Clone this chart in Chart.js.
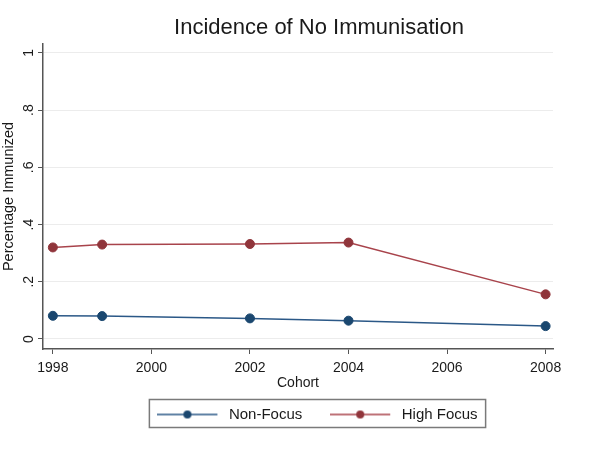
<!DOCTYPE html>
<html>
<head>
<meta charset="utf-8">
<script src="https://cdn.jsdelivr.net/npm/chart.js@4/dist/chart.umd.min.js"></script>
<style>
  html, body { margin: 0; padding: 0; background: #fff; }
</style>
</head>
<body>
<canvas id="immunChart" width="600" height="450"></canvas>
<script>
var cohorts = [1998, 1999, 2002, 2004, 2008];
var nonFocus = [0.081, 0.080, 0.072, 0.064, 0.045];
var highFocus = [0.320, 0.330, 0.332, 0.337, 0.156];
var xTicks = [1998, 2000, 2002, 2004, 2006, 2008];
var yTicks = [0, 0.2, 0.4, 0.6, 0.8, 1];
var yTickLabels = ["0", ".2", ".4", ".6", ".8", "1"];

var navyLine = "#2b5887";
var navyDot = "#1a476f";
var maroonLine = "#a8434b";
var maroonDot = "#90353b";
var axisGrey = "#555555";
var font = "'Liberation Sans', Arial, sans-serif";

function toPoints(values) {
  return cohorts.map(function (c, i) { return { x: c, y: values[i] }; });
}

// Stata-style legend key: a line with a dot on it (4px blank on the right)
function legendKey(line, dot) {
  var cv = document.createElement("canvas");
  cv.width = 64;
  cv.height = 10;
  var g = cv.getContext("2d");
  g.strokeStyle = line;
  g.lineWidth = 1.5;
  g.beginPath();
  g.moveTo(0, 5);
  g.lineTo(60, 5);
  g.stroke();
  g.fillStyle = dot;
  g.beginPath();
  g.arc(30, 5, 4, 0, Math.PI * 2);
  g.fill();
  return cv;
}

// y tick labels in Stata are turned on their side
const rotatedYLabels = {
  id: "rotatedYLabels",
  afterDraw: function (chart) {
    const ctx = chart.ctx;
    const y = chart.scales.y;
    ctx.save();
    ctx.font = "14px " + font;
    ctx.fillStyle = "#1a1a1a";
    ctx.textAlign = "center";
    ctx.textBaseline = "middle";
    yTicks.forEach(function (v, i) {
      ctx.save();
      ctx.translate(29, y.getPixelForValue(v));
      ctx.rotate(-Math.PI / 2);
      ctx.fillText(yTickLabels[i], 0, 0);
      ctx.restore();
    });
    ctx.restore();
  }
};

// the graph region sits a little right of the canvas centre
const shiftBlocks = {
  id: "shiftBlocks",
  afterLayout: function (chart) {
    chart.titleBlock.left += 38;
    chart.legend.left += 35;
  }
};

// frame round the legend
const legendFrame = {
  id: "legendFrame",
  afterDraw: function (chart) {
    const boxes = chart.legend.legendHitBoxes;
    if (!boxes || !boxes.length) return;
    let left = Infinity, right = -Infinity, mid = 0;
    boxes.forEach(function (b) {
      left = Math.min(left, b.left);
      right = Math.max(right, b.left + b.width);
      mid = b.top + b.height / 2;
    });
    const ctx = chart.ctx;
    ctx.save();
    ctx.strokeStyle = "#7a7a7a";
    ctx.lineWidth = 1.5;
    ctx.strokeRect(left - 8, mid - 15, right - left + 16, 28);
    ctx.restore();
  }
};

var ctx = document.getElementById("immunChart").getContext("2d");

var immunChart = new Chart(ctx, {
  type: "line",
  data: {
    datasets: [{
      label: "Non-Focus",
      data: toPoints(nonFocus),
      borderColor: navyLine,
      backgroundColor: navyDot,
      pointBorderColor: navyDot,
      borderWidth: 1.5,
      pointRadius: 4.5,
      pointBorderWidth: 1
    }, {
      label: "High Focus",
      data: toPoints(highFocus),
      borderColor: maroonLine,
      backgroundColor: maroonDot,
      pointBorderColor: maroonDot,
      borderWidth: 1.5,
      pointRadius: 4.5,
      pointBorderWidth: 1
    }]
  },
  options: {
    responsive: false,
    animation: false,
    layout: {
      padding: { left: 0, right: 0, top: 0, bottom: 18 }
    },
    elements: {
      line: { tension: 0 }
    },
    scales: {
      x: {
        type: "linear",
        min: 1997.8,
        max: 2008.15,
        afterBuildTicks: function (scale) {
          scale.ticks = xTicks.map(function (v) { return { value: v }; });
        },
        afterFit: function (scale) { scale.height = 30; },
        ticks: {
          color: "#1a1a1a",
          padding: 6,
          maxRotation: 0,
          font: { family: font, size: 14 },
          callback: function (v) { return String(v); }
        },
        grid: {
          drawOnChartArea: false,
          drawTicks: true,
          tickLength: 5,
          tickColor: axisGrey
        },
        border: { color: axisGrey, width: 1.5 },
        title: {
          display: true,
          text: "Cohort",
          color: "#1a1a1a",
          padding: { top: 0, bottom: -12.4 },
          font: { family: font, size: 14 }
        }
      },
      y: {
        type: "linear",
        min: -0.035,
        max: 1.031,
        afterBuildTicks: function (scale) {
          scale.ticks = yTicks.map(function (v) { return { value: v }; });
        },
        afterFit: function (scale) { scale.width = 43; },
        ticks: { display: false },
        grid: {
          color: "#ececec",
          lineWidth: 1,
          drawTicks: true,
          tickLength: 5,
          tickColor: axisGrey
        },
        border: { color: axisGrey, width: 1.5 },
        title: {
          display: true,
          text: "Percentage Immunized",
          color: "#1a1a1a",
          padding: 0,
          font: { family: font, size: 14.5 }
        }
      },
      // empty strip on the right of the plot region
      spacer: {
        type: "linear",
        position: "right",
        display: true,
        afterFit: function (scale) { scale.width = 47; },
        ticks: { display: false },
        grid: { display: false, drawTicks: false },
        border: { display: false }
      }
    },
    plugins: {
      title: {
        display: true,
        text: "Incidence of No Immunisation",
        color: "#1a1a1a",
        padding: { top: 15, bottom: 2.6 },
        font: { family: font, size: 22, weight: "normal" }
      },
      legend: {
        position: "bottom",
        labels: {
          usePointStyle: true,
          pointStyleWidth: 64,
          boxHeight: 10,
          padding: 28,
          color: "#1a1a1a",
          font: { family: font, size: 15 },
          generateLabels: function (chart) {
            return chart.data.datasets.map(function (ds, i) {
              return {
                text: ds.label,
                pointStyle: legendKey(ds.borderColor, ds.backgroundColor),
                fillStyle: ds.borderColor,
                strokeStyle: ds.borderColor,
                lineWidth: 0,
                fontColor: "#1a1a1a",
                hidden: false,
                datasetIndex: i
              };
            });
          }
        }
      },
      tooltip: { enabled: false }
    }
  },
  plugins: [shiftBlocks, rotatedYLabels, legendFrame]
});
</script>
</body>
</html>
